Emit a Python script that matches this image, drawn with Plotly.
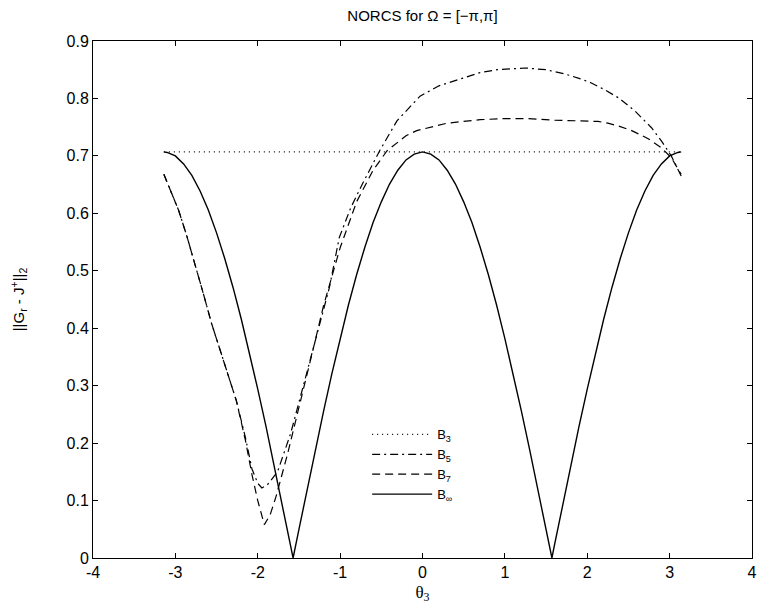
import plotly.graph_objects as go

# ---- data ----
theta_b3 = [-3.14, 3.14]
b3 = [0.707, 0.707]

theta_b5 = [-3.14, -3.05, -2.96, -2.86, -2.76, -2.66, -2.56, -2.37, -2.26, -2.15, -2.07,
            -2.0, -1.95, -1.88, -1.76, -1.60, -1.44, -1.24, -1.13, -1.01, -0.87, -0.73,
            -0.52, -0.31, -0.15, -0.03, 0.2, 0.49, 0.7, 0.91, 1.25, 1.5, 1.72, 1.9, 2.05,
            2.2, 2.38, 2.58, 2.78, 2.90, 3.02, 3.14]
b5 = [0.668, 0.635, 0.605, 0.560, 0.512, 0.460, 0.408, 0.321, 0.274, 0.21, 0.155,
      0.13, 0.122, 0.128, 0.150, 0.217, 0.304, 0.408, 0.471, 0.558, 0.610, 0.651,
      0.709, 0.761, 0.785, 0.804, 0.822, 0.836, 0.845, 0.850, 0.853, 0.850, 0.843, 0.835, 0.827,
      0.816, 0.801, 0.778, 0.749, 0.726, 0.700, 0.665]

theta_b7 = [-3.14, -3.05, -2.96, -2.86, -2.76, -2.66, -2.56, -2.37, -2.26, -2.15, -2.07,
            -2.0, -1.92, -1.85, -1.78, -1.64, -1.50, -1.35, -1.20, -1.00, -0.80, -0.60,
            -0.43, -0.20, -0.07, 0.30, 0.70, 1.00, 1.28, 1.60, 1.90, 2.13, 2.25, 2.38,
            2.54, 2.65, 2.74, 2.82, 2.90, 3.02, 3.14]
b7 = [0.668, 0.635, 0.605, 0.560, 0.512, 0.460, 0.408, 0.321, 0.274, 0.205, 0.145,
      0.10, 0.058, 0.075, 0.106, 0.180, 0.260, 0.350, 0.440, 0.540, 0.620, 0.675,
      0.709, 0.735, 0.744, 0.757, 0.763, 0.765, 0.765, 0.762, 0.761, 0.760, 0.757, 0.752,
      0.744, 0.737, 0.730, 0.722, 0.714, 0.697, 0.668]

theta_binf = [-3.14, -3.1, -3.0, -2.9, -2.8, -2.7, -2.6, -2.5, -2.4, -2.3, -2.2, -2.1,
              -2.0, -1.9, -1.8, -1.7, -1.6, -1.571, -1.5, -1.4, -1.3, -1.2, -1.1, -1.0,
              -0.9, -0.8, -0.7, -0.6, -0.5, -0.4, -0.3, -0.2, -0.1, 0.0,
              0.1, 0.2, 0.3, 0.4, 0.5, 0.6, 0.7, 0.8, 0.9, 1.0, 1.1, 1.2, 1.3, 1.4,
              1.5, 1.571, 1.6, 1.7, 1.8, 1.9, 2.0, 2.1, 2.2, 2.3, 2.4, 2.5, 2.6, 2.7,
              2.8, 2.9, 3.0, 3.1, 3.14]
binf = [0.707, 0.706, 0.700, 0.686, 0.666, 0.639, 0.606, 0.566, 0.521, 0.471, 0.416, 0.357,
        0.294, 0.229, 0.161, 0.091, 0.021, 0.0, 0.050, 0.120, 0.189, 0.256, 0.321, 0.382,
        0.440, 0.493, 0.541, 0.584, 0.620, 0.651, 0.675, 0.693, 0.703, 0.707,
        0.703, 0.693, 0.675, 0.651, 0.620, 0.584, 0.541, 0.493, 0.440, 0.382, 0.321, 0.256, 0.189, 0.120,
        0.050, 0.0, 0.021, 0.091, 0.161, 0.229, 0.294, 0.357, 0.416, 0.471, 0.521, 0.566, 0.606, 0.639,
        0.666, 0.686, 0.700, 0.706, 0.707]

x_ticks = [-4, -3, -2, -1, 0, 1, 2, 3, 4]
x_ticklabels = ["-4", "-3", "-2", "-1", "0", "1", "2", "3", "4"]
y_ticks = [0, 0.1, 0.2, 0.3, 0.4, 0.5, 0.6, 0.7, 0.8, 0.9]
y_ticklabels = ["0", "0.1", "0.2", "0.3", "0.4", "0.5", "0.6", "0.7", "0.8", "0.9"]

font_sans = "Liberation Sans, Arial, Helvetica, sans-serif"

fig = go.Figure()
fig.add_trace(go.Scatter(x=theta_b3, y=b3, mode="lines", name="B<sub>3</sub>",
                         line=dict(color="black", width=1.2, dash="1px,4px")))
fig.add_trace(go.Scatter(x=theta_b5, y=b5, mode="lines", name="B<sub>5</sub>",
                         line=dict(color="black", width=1.2, dash="8px,4px,2px,4px")))
fig.add_trace(go.Scatter(x=theta_b7, y=b7, mode="lines", name="B<sub>7</sub>",
                         line=dict(color="black", width=1.2, dash="8px,5px")))
fig.add_trace(go.Scatter(x=theta_binf, y=binf, mode="lines", name="B<sub>∞</sub>",
                         line=dict(color="black", width=1.4)))

axis_common = dict(showgrid=False, zeroline=False, showline=True, linecolor="black",
                   linewidth=1, mirror="ticks", ticks="inside", ticklen=5,
                   tickcolor="black", automargin=False,
                   tickfont=dict(family=font_sans, size=16, color="black"))

# the page body adds an 8px offset, so the figure margins are shifted by 8px
fig.update_layout(
    width=766, height=612,
    margin=dict(l=85, r=22, t=33, b=62, autoexpand=False),
    paper_bgcolor="white", plot_bgcolor="white",
    title=dict(text="NORCS for Ω = [−π,π]", x=(85 + 744) / 2 / 766, xanchor="center",
               y=1.0, yanchor="top", automargin=False, pad=dict(t=2),
               font=dict(family=font_sans, size=15, color="black")),
    xaxis=dict(range=[-4, 4], tickvals=x_ticks, ticktext=x_ticklabels, **axis_common,
               title=dict(text="θ<sub>3</sub>", standoff=5,
                          font=dict(family="Liberation Serif, Times New Roman, serif",
                                    size=17, color="black"))),
    yaxis=dict(range=[0, 0.9], tickvals=y_ticks, ticktext=y_ticklabels, **axis_common,
               title=dict(text="||G<sub>r</sub> - J<sup>+</sup>||<sub>2</sub>", standoff=45,
                          font=dict(family=font_sans, size=15, color="black"))),
    showlegend=True,
    legend=dict(x=0.416, y=0.268, xanchor="left", yanchor="top",
                bgcolor="rgba(0,0,0,0)", borderwidth=0, itemwidth=60,
                tracegroupgap=0,
                font=dict(family=font_sans, size=13, color="black")),
)

fig.write_html("out.html")
